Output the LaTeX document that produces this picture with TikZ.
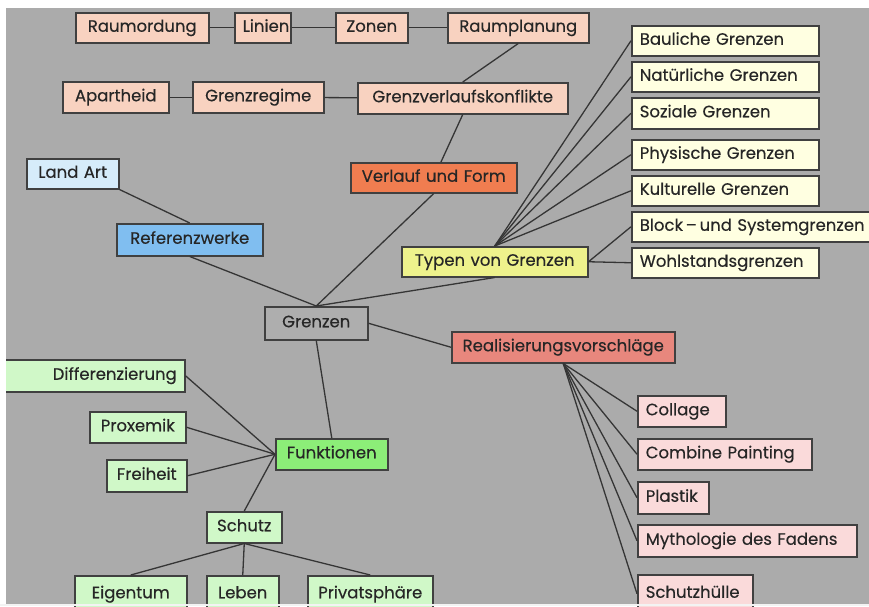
\documentclass[tikz,border=0pt]{standalone}
\usepackage{fontspec}
\setmainfont{Poppins}[UprightFeatures={FakeBold=0.35}]
\definecolor{bgc}{HTML}{ABABAB}
\definecolor{peach}{HTML}{F8D2C0}
\definecolor{lyellow}{HTML}{FFFFE1}
\definecolor{typc}{HTML}{EEF28C}
\definecolor{verlc}{HTML}{F07D50}
\definecolor{landc}{HTML}{D6ECFA}
\definecolor{refc}{HTML}{80BEF0}
\definecolor{grenc}{HTML}{AEAEAE}
\definecolor{realc}{HTML}{E8877D}
\definecolor{pinkc}{HTML}{FADADA}
\definecolor{funkc}{HTML}{8CEE78}
\definecolor{lgreen}{HTML}{D0F8C8}
\definecolor{bordc}{HTML}{404040}
\definecolor{linec}{HTML}{353535}
\definecolor{txtc}{HTML}{262626}
\newcommand\bxnode[7]{%
  \pgfmathsetmacro\myBh{#6-#4}%
  \pgfmathsetmacro\myTw{#5-#3-16}%
  \node[bx,#2,minimum height=\myBh pt,text width=\myTw pt,anchor=north west] (#1) at (#3,#4) {\mbox{#7}};}
\begin{document}
\begin{tikzpicture}[x=1pt,y=-1pt,
  bx/.style={draw=bordc,line width=1.5pt,inner xsep=8pt,inner ysep=0pt,text=txtc,
    text height=12pt,text depth=4pt,
    font=\fontsize{16.5}{19}\selectfont},
  conn/.style={draw=linec,line width=1.3pt}]
\useasboundingbox (0,0) rectangle (869,606);
\fill[bgc] (0,0) rectangle (869,606);
% top rows
\bxnode{raumord}{fill=peach,align=center}{75}{12}{208}{42}{Raumordung}
\bxnode{linien}{fill=peach,align=center}{234}{12}{290}{42}{Linien}
\bxnode{zonen}{fill=peach,align=center}{335}{12}{407}{42}{Zonen}
\bxnode{raumpl}{fill=peach,align=center}{447}{12}{588}{42}{Raumplanung}
\bxnode{apart}{fill=peach,align=center}{62}{81}{168}{112}{Apartheid}
\bxnode{gregime}{fill=peach,align=center}{192}{81}{323}{112}{Grenzregime}
\bxnode{gverlauf}{fill=peach,align=center}{357}{82}{567}{113}{Grenzverlaufskonflikte}
% middle
\bxnode{landart}{fill=landc,align=center}{26}{158}{118}{188}{Land Art}
\bxnode{refw}{fill=refc,align=center}{116}{223}{262}{255}{Referenzwerke}
\bxnode{verlauf}{fill=verlc,align=center}{350}{162}{516}{192}{Verlauf und Form}
\bxnode{typen}{fill=typc,align=center}{401}{246}{587}{276}{Typen von Grenzen}
\bxnode{grenzen}{fill=grenc,align=center}{264}{306}{367}{339}{Grenzen}
\bxnode{realis}{fill=realc,align=center}{451}{331}{674}{362}{Realisierungsvorschläge}
% right column
\bxnode{bauliche}{fill=lyellow,align=left}{631}{25}{818}{55}{Bauliche Grenzen}
\bxnode{natur}{fill=lyellow,align=left}{631}{61}{818}{91}{Natürliche Grenzen}
\bxnode{sozial}{fill=lyellow,align=left}{631}{97}{818}{128}{Soziale Grenzen}
\bxnode{physisch}{fill=lyellow,align=left}{631}{139}{818}{169}{Physische Grenzen}
\bxnode{kultur}{fill=lyellow,align=left}{631}{175}{818}{205}{Kulturelle Grenzen}
\bxnode{block}{fill=lyellow,align=left}{631}{211}{905}{241}{Block\,–\,und Systemgrenzen}
\bxnode{wohl}{fill=lyellow,align=left}{631}{247}{818}{277}{Wohlstandsgrenzen}
% pink column
\bxnode{collage}{fill=pinkc,align=left}{637}{395}{725}{426}{Collage}
\bxnode{combine}{fill=pinkc,align=left}{637}{438}{811}{469}{Combine Painting}
\bxnode{plastik}{fill=pinkc,align=left}{637}{481}{708}{513}{Plastik}
\bxnode{mytho}{fill=pinkc,align=left}{637}{524}{856}{556}{Mythologie des Fadens}
\bxnode{schutzh}{fill=pinkc,align=left}{637}{574}{752}{612}{Schutzhülle}
% green
\bxnode{diff}{fill=lgreen,align=right}{-4}{359}{184}{391}{Differenzierung}
\bxnode{proxemik}{fill=lgreen,align=center}{89}{411}{185}{442}{Proxemik}
\bxnode{freiheit}{fill=lgreen,align=center}{106}{459}{186}{491}{Freiheit}
\bxnode{funkt}{fill=funkc,align=center}{275}{438}{387}{469}{Funktionen}
\bxnode{schutz}{fill=lgreen,align=center}{206}{511}{281}{542}{Schutz}
\bxnode{eigentum}{fill=lgreen,align=center}{74}{575}{186}{612}{Eigentum}
\bxnode{leben}{fill=lgreen,align=center}{206}{575}{278}{612}{Leben}
\bxnode{privat}{fill=lgreen,align=center}{307}{575}{432}{612}{Privatsphäre}
% connectors
\draw[conn] (raumord) -- (linien);
\draw[conn] (linien) -- (zonen);
\draw[conn] (zonen) -- (raumpl);
\draw[conn] (apart) -- (gregime);
\draw[conn] (gregime) -- (gverlauf);
\draw[conn] (raumpl.south) -- (gverlauf.north);
\draw[conn] (gverlauf.south) -- (verlauf);
\draw[conn] (verlauf.south) -- (grenzen.north);
\draw[conn] (landart.south east) -- (refw.north);
\draw[conn] (refw.south) -- (grenzen.north);
\draw[conn] (typen.south) -- (grenzen.north);
\draw[conn] (grenzen.east) -- (realis.west);
\draw[conn] (grenzen.south) -- (funkt.north);
\foreach \t in {bauliche,natur,sozial,physisch,kultur}
  \draw[conn] (typen.north) -- (\t.west);
\draw[conn] (typen.east) -- (block.west);
\draw[conn] (typen.east) -- (wohl.west);
\foreach \t in {collage,combine,plastik,mytho,schutzh}
  \draw[conn] (realis.south) -- (\t.west);
\foreach \t in {diff,proxemik,freiheit}
  \draw[conn] (\t.east) -- (funkt.west);
\draw[conn] (funkt.west) -- (schutz.north);
\foreach \t in {eigentum,leben,privat}
  \draw[conn] (schutz.south) -- (\t.north);
% margins
\fill[white] (0,0) rectangle (869,8);
\fill[white] (0,0) rectangle (6,606);
\fill[white!85!bgc] (0,604) rectangle (869,606);
\end{tikzpicture}
\end{document}
